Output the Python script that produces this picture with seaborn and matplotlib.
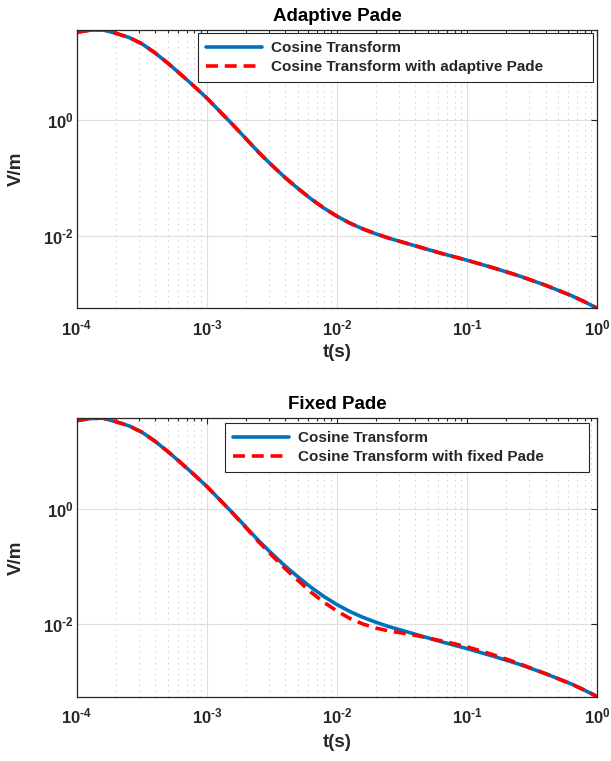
import numpy as np
import matplotlib
matplotlib.use("Agg")
import matplotlib.pyplot as plt
import seaborn as sns
from matplotlib.ticker import FixedLocator, FuncFormatter, NullLocator, NullFormatter, LogLocator

# Time axis as decade exponents (t = 10**exponent seconds)
t_exponent = [-4.0, -3.9, -3.8, -3.7, -3.6, -3.5, -3.4, -3.3, -3.2, -3.1,
              -3.0, -2.9, -2.8, -2.7, -2.6, -2.5, -2.4, -2.3, -2.2, -2.1,
              -2.0, -1.9, -1.8, -1.7, -1.6, -1.5, -1.4, -1.3, -1.2, -1.1,
              -1.0, -0.9, -0.8, -0.7, -0.6, -0.5, -0.4, -0.3, -0.2, -0.1, 0.0]

# Field response, log10(V/m)
field_cosine = [1.518, 1.553, 1.562, 1.500, 1.430, 1.320, 1.165, 0.985, 0.790, 0.590,
                0.381, 0.150, -0.080, -0.320, -0.560, -0.780, -0.990, -1.180, -1.360, -1.520,
                -1.660, -1.780, -1.880, -1.965, -2.040, -2.105, -2.170, -2.235, -2.300, -2.360,
                -2.420, -2.485, -2.550, -2.620, -2.690, -2.770, -2.850, -2.940, -3.030, -3.135, -3.250]

field_adaptive = [1.518, 1.553, 1.562, 1.500, 1.430, 1.320, 1.165, 0.985, 0.790, 0.590,
                  0.381, 0.150, -0.080, -0.320, -0.560, -0.780, -0.990, -1.180, -1.360, -1.520,
                  -1.660, -1.780, -1.880, -1.965, -2.040, -2.105, -2.170, -2.235, -2.300, -2.360,
                  -2.420, -2.485, -2.550, -2.620, -2.690, -2.770, -2.850, -2.940, -3.030, -3.135, -3.250]

field_fixed = [1.518, 1.553, 1.562, 1.500, 1.430, 1.320, 1.165, 0.985, 0.790, 0.590,
               0.381, 0.150, -0.085, -0.330, -0.580, -0.810, -1.035, -1.240, -1.445, -1.620,
               -1.770, -1.900, -1.995, -2.065, -2.115, -2.150, -2.190, -2.235, -2.285, -2.335,
               -2.390, -2.455, -2.525, -2.600, -2.678, -2.765, -2.850, -2.940, -3.030, -3.135, -3.250]

x_tick_values = [1e-4, 1e-3, 1e-2, 1e-1, 1e0]
y_tick_values = [1e-2, 1e0]

panel_titles = ["Adaptive Pade", "Fixed Pade"]
series_reference = "Cosine Transform"
series_labels = ["Cosine Transform with adaptive Pade", "Cosine Transform with fixed Pade"]

BLUE = "#0072BD"
RED = "#FF0000"
DARK = "#262626"

sns.set_style("white")
plt.rcParams["font.family"] = ["Liberation Sans", "DejaVu Sans"]
plt.rcParams["font.weight"] = "bold"
plt.rcParams["mathtext.fontset"] = "custom"
plt.rcParams["mathtext.rm"] = "Liberation Sans:bold"
plt.rcParams["mathtext.bf"] = "Liberation Sans:bold"
plt.rcParams["mathtext.it"] = "Liberation Sans:italic:bold"

t = 10.0 ** np.array(t_exponent)
v_ref = 10.0 ** np.array(field_cosine)
v_cmp = [10.0 ** np.array(field_adaptive), 10.0 ** np.array(field_fixed)]

fig = plt.figure(figsize=(6.11, 7.61), dpi=100)
ax_top = fig.add_axes([0.12553, 0.59487, 0.85205, 0.36610])
ax_bot = fig.add_axes([0.12553, 0.08449, 0.85205, 0.36610])

legend_boxes = [(0.233, 0.7595, 0.987), (0.2854, 0.698, 0.981)]


def exp_label(v, pos):
    e = int(round(np.log10(v)))
    if e < 0:
        return r"$\mathbf{10^{\text{-}%d}}$" % (-e)
    return r"$\mathbf{10^{%d}}$" % e


for ax, title, lab, vc, lb in zip([ax_top, ax_bot], panel_titles, series_labels, v_cmp, legend_boxes):
    ax.set_xscale("log")
    ax.set_yscale("log")
    sns.lineplot(x=t, y=v_ref, ax=ax, color=BLUE, linewidth=2.6, label=series_reference)
    sns.lineplot(x=t, y=vc, ax=ax, color=RED, linewidth=2.6,
                 linestyle=(0, (3.3, 1.9)), label=lab)

    ymin = min(v_ref.min(), vc.min())
    ymax = max(v_ref.max(), vc.max())
    ax.set_xlim(x_tick_values[0], x_tick_values[-1])
    ax.set_ylim(ymin, ymax)

    ax.xaxis.set_major_locator(FixedLocator(x_tick_values))
    ax.xaxis.set_major_formatter(FuncFormatter(exp_label))
    ax.xaxis.set_minor_locator(LogLocator(base=10, subs=np.arange(2, 10)))
    ax.xaxis.set_minor_formatter(NullFormatter())
    ax.yaxis.set_major_locator(FixedLocator(y_tick_values))
    ax.yaxis.set_major_formatter(FuncFormatter(exp_label))
    ax.yaxis.set_minor_locator(NullLocator())

    ax.set_axisbelow(True)
    ax.grid(True, which="major", color="#dfdfdf", linewidth=0.8, linestyle="-")
    ax.grid(True, which="minor", axis="x", color="#cccccc", linewidth=0.7,
            linestyle=(0, (1.4, 4.3)))

    ax.tick_params(which="both", direction="in", top=True, right=True,
                   color=DARK, labelcolor=DARK, width=0.8)
    ax.tick_params(which="major", length=4.2, labelsize=12)
    ax.tick_params(which="minor", length=2.4)
    ax.tick_params(axis="x", which="major", pad=7)
    ax.tick_params(axis="y", which="major", pad=2)
    for s in ax.spines.values():
        s.set_color(DARK)
        s.set_linewidth(0.9)

    ax.set_title(title, fontsize=13.5, fontweight="bold", color="black", pad=6.5)
    ax.set_xlabel("t(s)", fontsize=13.5, fontweight="bold", color=DARK)
    ax.set_ylabel("V/m", fontsize=13.5, fontweight="bold", color=DARK)
    ax.yaxis.set_label_coords(-0.0993, 0.5)
    ax.xaxis.label.set_va("center")

    x0, w, ytop = lb
    leg = ax.legend(loc="upper right", bbox_to_anchor=(x0, 0.0, w, ytop), mode="expand",
                    borderaxespad=0, handlelength=3.7, handletextpad=0.55,
                    borderpad=0.5, labelspacing=0.35, frameon=True, fancybox=False,
                    framealpha=1, edgecolor=DARK,
                    prop=dict(weight="bold", size=11))
    leg.get_frame().set_linewidth(0.8)

ax_top.xaxis.set_label_coords(0.5, -0.157)
ax_bot.xaxis.set_label_coords(0.5, -0.166)

fig.savefig("out.png", dpi=100, facecolor="white")
